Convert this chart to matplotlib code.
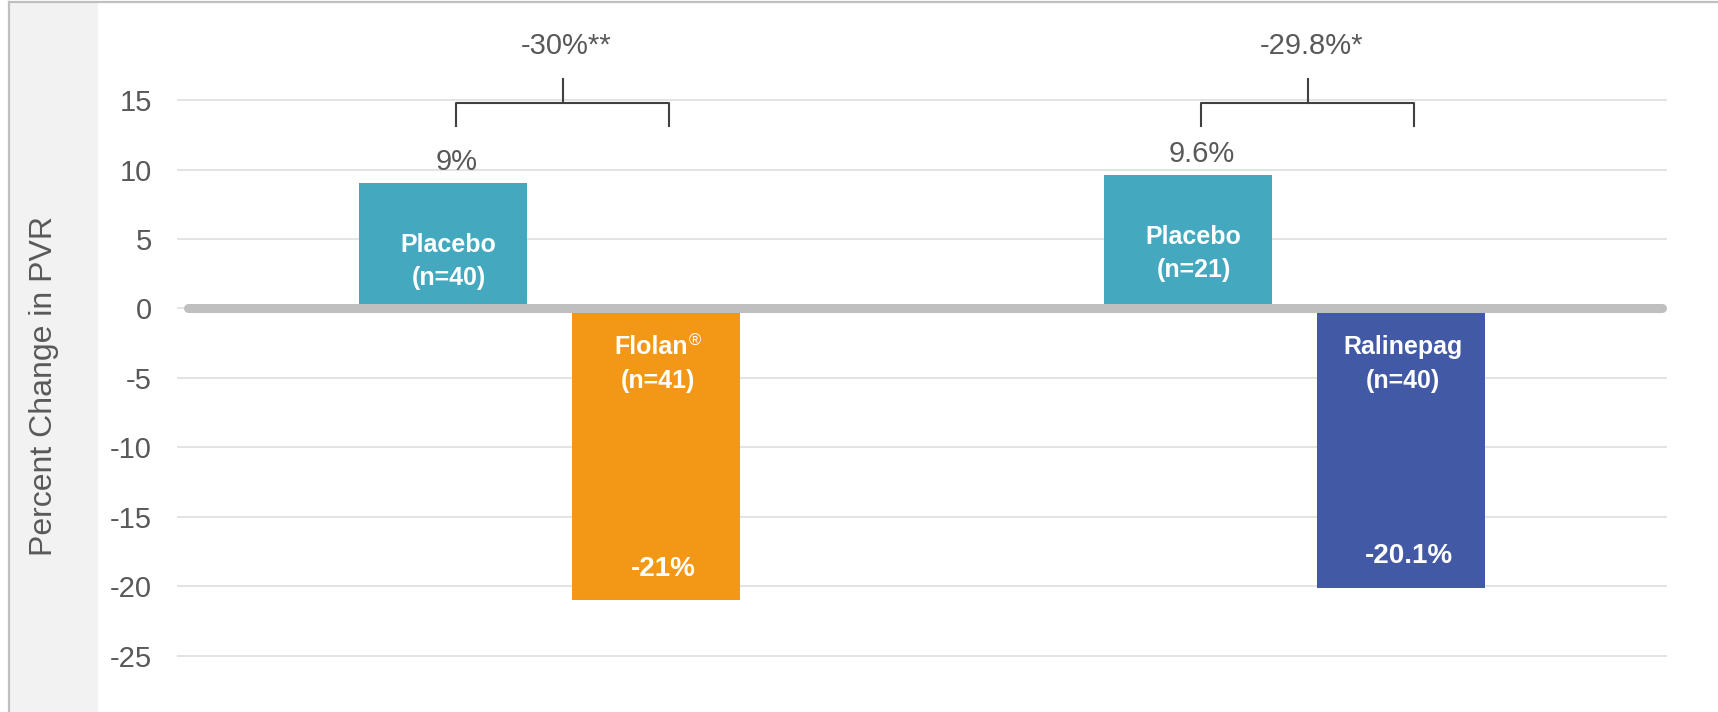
import numpy as np
import matplotlib.pyplot as plt
from matplotlib.patches import Rectangle
from matplotlib.lines import Line2D

plt.rcParams['font.family'] = ['Liberation Sans', 'DejaVu Sans']
plt.rcParams['axes.unicode_minus'] = False

# data
studies = ['Flolan', 'Ralinepag']
placebo_pct = [9, 9.6]
active_pct = [-21, -20.1]
placebo_n = [40, 21]
active_names = ['Flolan', 'Ralinepag']
active_marks = ['®', '']
active_n = [41, 40]
diff_labels = ['-30%**', '-29.8%*']
yticks = [-25, -20, -15, -10, -5, 0, 5, 10, 15]

placebo_color = '#44a9be'
active_colors = ['#f29716', '#4259a5']
text_gray = '#595959'

W, H = 1718, 712
fig = plt.figure(figsize=(W / 100, H / 100), dpi=100)

# gray side panel and frame
fig.patches.append(Rectangle((9 / W, 0), 89 / W, 1 - 2 / H, transform=fig.transFigure,
                             facecolor='#f2f2f2', edgecolor='none', zorder=0))
fig.lines.append(Line2D([8.5 / W, 8.5 / W], [0, 1 - 1.5 / H], transform=fig.transFigure,
                        color='#bfbfbf', lw=1.6))
fig.lines.append(Line2D([8.5 / W, 1], [1 - 1.5 / H, 1 - 1.5 / H], transform=fig.transFigure,
                        color='#bfbfbf', lw=1.6))

ax = fig.add_axes([177 / W, 1 - 697.4 / H, 1490 / W, 666.8 / H])
ax.set_xlim(-0.5, 1.5)
ax.set_ylim(-28, 20)
for s in ax.spines.values():
    s.set_visible(False)
ax.set_xticks([])
ax.set_yticks(yticks)
ax.tick_params(axis='y', length=0, pad=18, labelsize=21, labelcolor=text_gray)
ax.yaxis.grid(True, color='#dedede', lw=1.2, zorder=0)
ax.set_axisbelow(True)

x = np.arange(len(studies))
offset = 0.1423
width = 0.2255
px = 2.0 / 1490  # one pixel in x data units

ax.bar(x - offset, placebo_pct, width, color=placebo_color, zorder=2)
ax.bar(x + offset, active_pct, width, color=active_colors, zorder=2)

# thick zero line
ax.plot([-0.5 + 11 * px, -0.5 + 1485 * px], [0, 0], color='#bfbfbf', lw=6.5,
        solid_capstyle='round', zorder=3)

for i in range(len(studies)):
    xp = x[i] - offset
    xa = x[i] + offset
    pv = placebo_pct[i]
    av = active_pct[i]

    # labels inside placebo bars
    ax.text(xp + 5 * px, pv - 4.45, 'Placebo', ha='center', va='center', color='white',
            fontsize=18, fontweight='bold', zorder=4)
    ax.text(xp + 5 * px, pv - 6.8, f'(n={placebo_n[i]})', ha='center', va='center',
            color='white', fontsize=18, fontweight='bold', zorder=4)
    # value above placebo bar
    ax.text(xp + 13 * px, pv + 1.55, f'{pv:g}%', ha='center', va='center', color=text_gray,
            fontsize=21, zorder=4)

    # labels inside active bars
    shift = 6 * px if active_marks[i] else 0
    t = ax.text(xa + 2 * px - shift, -2.8, active_names[i], ha='center', va='center',
                color='white', fontsize=18, fontweight='bold', zorder=4)
    if active_marks[i]:
        ax.annotate(active_marks[i], xy=(1, 1), xycoords=t, ha='left', va='top',
                    xytext=(0.5, 1), textcoords='offset points',
                    color='white', fontsize=12, zorder=4)
    ax.text(xa + 2 * px, -5.2, f'(n={active_n[i]})', ha='center', va='center',
            color='white', fontsize=18, fontweight='bold', zorder=4)
    ax.text(xa + 8 * px, av + 2.25, f'{av:g}%', ha='center', va='center', color='white',
            fontsize=20, fontweight='bold', zorder=4)

    # bracket between the two bars
    xl = xp + 13 * px
    xr = xa + 13 * px
    xm = (xl + xr) / 2
    ax.plot([xl, xl, xr, xr], [13.1, 14.8, 14.8, 13.1], color='#404040', lw=1.5,
            clip_on=False, zorder=4)
    ax.plot([xm, xm], [14.8, 16.5], color='#404040', lw=1.5, clip_on=False, zorder=4)
    ax.text(xm + 4 * px, 18.9, diff_labels[i], ha='center', va='center', color=text_gray,
            fontsize=21, zorder=4)

fig.text(44 / W, 1 - 386 / H, 'Percent Change in PVR', rotation=90, ha='center',
         va='center', color=text_gray, fontsize=23)

fig.savefig('out.png', dpi=100)
